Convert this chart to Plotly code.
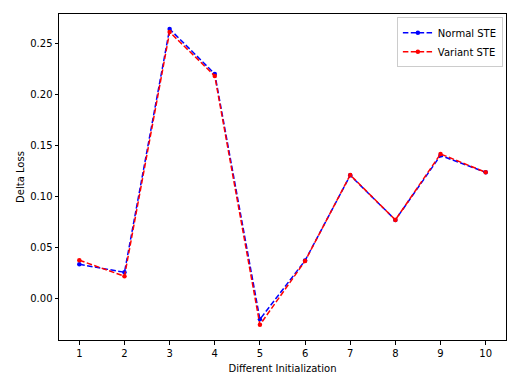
import plotly.graph_objects as go

x_vals = [1, 2, 3, 4, 5, 6, 7, 8, 9, 10]
normal_ste = [0.0333, 0.0255, 0.264, 0.220, -0.0206, 0.037, 0.1205, 0.0768, 0.140, 0.1235]
variant_ste = [0.0373, 0.0216, 0.261, 0.218, -0.026, 0.0365, 0.1209, 0.0768, 0.1415, 0.1235]
y_ticks = [0.00, 0.05, 0.10, 0.15, 0.20, 0.25]

fig = go.Figure()
fig.add_trace(go.Scatter(x=x_vals, y=normal_ste, mode="lines+markers", name="Normal STE",
                         line=dict(color="#0000ff", width=1.5, dash="5.5px,2.4px"),
                         marker=dict(color="#0000ff", size=4.5)))
fig.add_trace(go.Scatter(x=x_vals, y=variant_ste, mode="lines+markers", name="Variant STE",
                         line=dict(color="#ff0000", width=1.5, dash="5.5px,2.4px"),
                         marker=dict(color="#ff0000", size=4.5)))

axis_common = dict(showline=True, linecolor="black", linewidth=1, mirror=True,
                   ticks="outside", ticklen=3.5, tickcolor="black", tickwidth=0.8,
                   showgrid=False, zeroline=False, automargin=False,
                   tickfont=dict(family="DejaVu Sans", size=10, color="black"))

# page body has an 8px margin, so the figure is sized/offset to compensate
fig.update_layout(
    width=508, height=366,
    margin=dict(l=51, r=10, t=6, b=34),
    paper_bgcolor="white", plot_bgcolor="white",
    font=dict(family="DejaVu Sans", size=10, color="black"),
    xaxis=dict(range=[0.55, 10.45], tickvals=x_vals, ticktext=[str(v) for v in x_vals],
               title=dict(text="Different Initialization", standoff=7,
                          font=dict(family="DejaVu Sans", size=10)),
               **axis_common),
    yaxis=dict(range=[-0.0409, 0.2787], tickvals=y_ticks,
               ticktext=[f"{v:.2f}" for v in y_ticks],
               title=dict(text="Delta Loss", standoff=3,
                          font=dict(family="DejaVu Sans", size=10)),
               **axis_common),
    legend=dict(x=0.993, y=0.99, xanchor="right", yanchor="top",
                bgcolor="rgba(255,255,255,0.8)", bordercolor="#cccccc", borderwidth=1,
                font=dict(family="DejaVu Sans", size=10), tracegroupgap=0,
                itemwidth=30),
    showlegend=True,
)

fig.write_html("out.html")
